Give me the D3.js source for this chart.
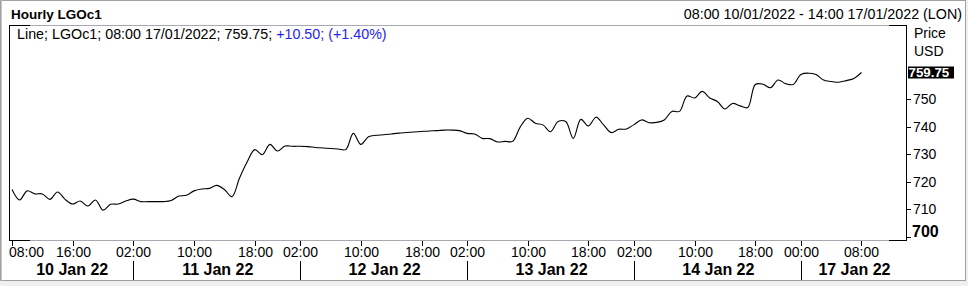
<!DOCTYPE html>
<html><head><meta charset="utf-8">
<script src="https://cdn.jsdelivr.net/npm/d3@7"></script>
<style>
html,body{margin:0;padding:0;background:#fff;}
svg{display:block;font-family:"Liberation Sans",Arial,sans-serif;}
</style></head>
<body><div id="chart"></div>
<script>
// Hourly LGOc1 closes, one per trading hour, 08:00 10/01/2022 .. 08:00 17/01/2022
const prices = [
 717.2,713.4,716.7,715.6,715.6,713.6,716.3,713.6,711.9,713.0,711.2,713.4,709.7,711.8,711.9,
 713.0,713.7,712.8,712.8,712.8,712.8,713.2,714.8,715.1,716.7,717.4,717.6,718.7,717.2,714.6,
 721.4,727.2,731.7,729.9,733.6,731.2,733.0,732.9,732.9,732.8,732.5,732.3,732.1,731.9,731.7,
 737.6,733.6,736.4,736.9,737.1,737.4,737.7,737.9,738.1,738.3,738.5,738.6,738.8,738.8,738.6,
 737.6,737.4,735.8,735.7,734.5,734.7,734.7,739.9,743.1,741.3,740.7,738.2,741.9,741.9,735.8,
 742.7,740.3,743.5,740.7,737.9,739.1,739.2,740.8,742.5,741.5,741.6,742.5,745.6,745.6,751.2,
 750.5,752.9,750.5,749.2,746.5,748.5,747.6,747.0,755.4,755.5,754.2,757.0,755.7,755.4,759.0,
 759.5,759.0,757.0,756.5,756.2,756.8,757.6,759.75
];
const lastIndexInRange = 118; // 14:00 17/01/2022
const timeTickIndex = [0,8,16,24,32,38,46,54,60,68,76,82,90,98,104,112];
const timeTickLabels = ["08:00","16:00","02:00","10:00","18:00","02:00","10:00","18:00","02:00","10:00","18:00","02:00","10:00","18:00","00:00","08:00"];
const dayStartIndex = [0,16,38,60,82,104];
const dayLabels = ["10 Jan 22","11 Jan 22","12 Jan 22","13 Jan 22","14 Jan 22","17 Jan 22"];
const yTicks = [700,710,720,730,740,750];

const W=968,H=286;
const L=9,R=906,T=25,B=240;
const svg=d3.select("#chart").append("svg").attr("width",W).attr("height",H);

const x=d3.scaleLinear().domain([0,lastIndexInRange]).range([12,907]);
const y=d3.scaleLinear().domain([700,759.75]).range([236.8,236.8-59.75*2.75]);

// outer frame
svg.append("rect").attr("x",0).attr("y",0).attr("width",W).attr("height",H).attr("fill","#fff");
svg.append("rect").attr("x",0).attr("y",281).attr("width",W).attr("height",5).attr("fill","#f0f0f0");
svg.append("rect").attr("x",0.5).attr("y",0.5).attr("width",965).attr("height",280).attr("fill","none").attr("stroke","#a0a0a0");
svg.append("rect").attr("x",966).attr("y",0).attr("width",2).attr("height",H).attr("fill","#f0f0f0");
svg.append("line").attr("x1",1.5).attr("x2",1.5).attr("y1",0).attr("y2",281).attr("stroke","#c8c8c8");

// titles
svg.append("text").attr("x",11).attr("y",19).attr("font-weight","bold").attr("font-size",13.5).text("Hourly LGOc1");
svg.append("text").attr("x",962).attr("y",19).attr("text-anchor","end").attr("font-size",14.3).text("08:00 10/01/2022 - 14:00 17/01/2022 (LON)");

// plot frame
const g=svg.append("g");
g.append("line").attr("x1",L).attr("x2",R).attr("y1",T+0.5).attr("y2",T+0.5).attr("stroke","#a8a8b0");
g.append("line").attr("x1",L).attr("x2",R).attr("y1",B+0.5).attr("y2",B+0.5).attr("stroke","#a8a8b0");
g.append("path").attr("d",`M${L+0.5},${T+0.5}H${L+21}M${L+0.5},${T}V${B+1}M${L+0.5},${B+0.5}H${L+21}`).attr("stroke","#000").attr("fill","none");
g.append("path").attr("d",`M${R+0.5},${T}V${B+1}M${R+0.5},${T+0.5}H${R-17}M${R+0.5},${B+0.5}H${R-17}`).attr("stroke","#000").attr("fill","none");

// legend
const lg=svg.append("text").attr("x",17).attr("y",39).attr("font-size",14.3);
lg.append("tspan").attr("fill","#000").text("Line; LGOc1; 08:00 17/01/2022; "+prices[prices.length-1].toFixed(2)+"; ");
lg.append("tspan").attr("fill","#2424f0").text("+10.50; (+1.40%)");

// line
svg.append("clipPath").attr("id","clip").append("rect").attr("x",L+1).attr("y",T+1).attr("width",R-L-1).attr("height",B-T-1);
const line=d3.line().x((d,i)=>x(i)).y(d=>y(d)).curve(d3.curveCatmullRom.alpha(0.5));
svg.append("path").datum(prices).attr("d",line).attr("fill","none").attr("stroke","#000").attr("stroke-width",1.1).attr("clip-path","url(#clip)");

// y axis (right)
svg.append("text").attr("x",914).attr("y",38).attr("font-size",14).text("Price");
svg.append("text").attr("x",914).attr("y",56).attr("font-size",14).text("USD");
yTicks.forEach(v=>{
  const yy=Math.round(y(v))+0.5;
  svg.append("line").attr("x1",R).attr("x2",R+5).attr("y1",yy).attr("y2",yy).attr("stroke","#000");
  if(v===700){
    svg.append("text").attr("x",912).attr("y",yy-1).attr("font-size",16).attr("font-weight","bold").text(v);
  } else {
    svg.append("text").attr("x",913).attr("y",yy).attr("dy","0.35em").attr("font-size",14).text(v);
  }
});
const last=prices[prices.length-1];
const ly=y(last);
svg.append("rect").attr("x",908).attr("y",Math.round(ly)-5.5).attr("width",46).attr("height",12).attr("fill","#000");
svg.append("text").attr("x",908.5).attr("y",ly).attr("dy","0.37em").attr("font-size",13.3).attr("font-weight","bold").attr("fill","#fff").text(last.toFixed(2));

// x axis
timeTickIndex.forEach((t,k)=>{
  const xx=Math.round(x(t))+0.5;
  svg.append("line").attr("x1",xx).attr("x2",xx).attr("y1",241).attr("y2",246).attr("stroke","#000");
  svg.append("text").attr("x",k===0?9:xx).attr("y",257).attr("text-anchor",k===0?"start":"middle").attr("font-size",14).text(timeTickLabels[k]);
});
dayStartIndex.forEach((d,k)=>{
  const x0=k===0?L:x(d);
  const x1=k<dayStartIndex.length-1?x(dayStartIndex[k+1]):R;
  if(k>0){
    const xx=Math.round(x(d))+0.5;
    svg.append("line").attr("x1",xx).attr("x2",xx).attr("y1",261).attr("y2",280).attr("stroke","#000");
  }
  svg.append("text").attr("x",(x0+x1)/2+1).attr("y",275).attr("text-anchor","middle").attr("font-size",16).attr("font-weight","bold").text(dayLabels[k]);
});
</script></body></html>
